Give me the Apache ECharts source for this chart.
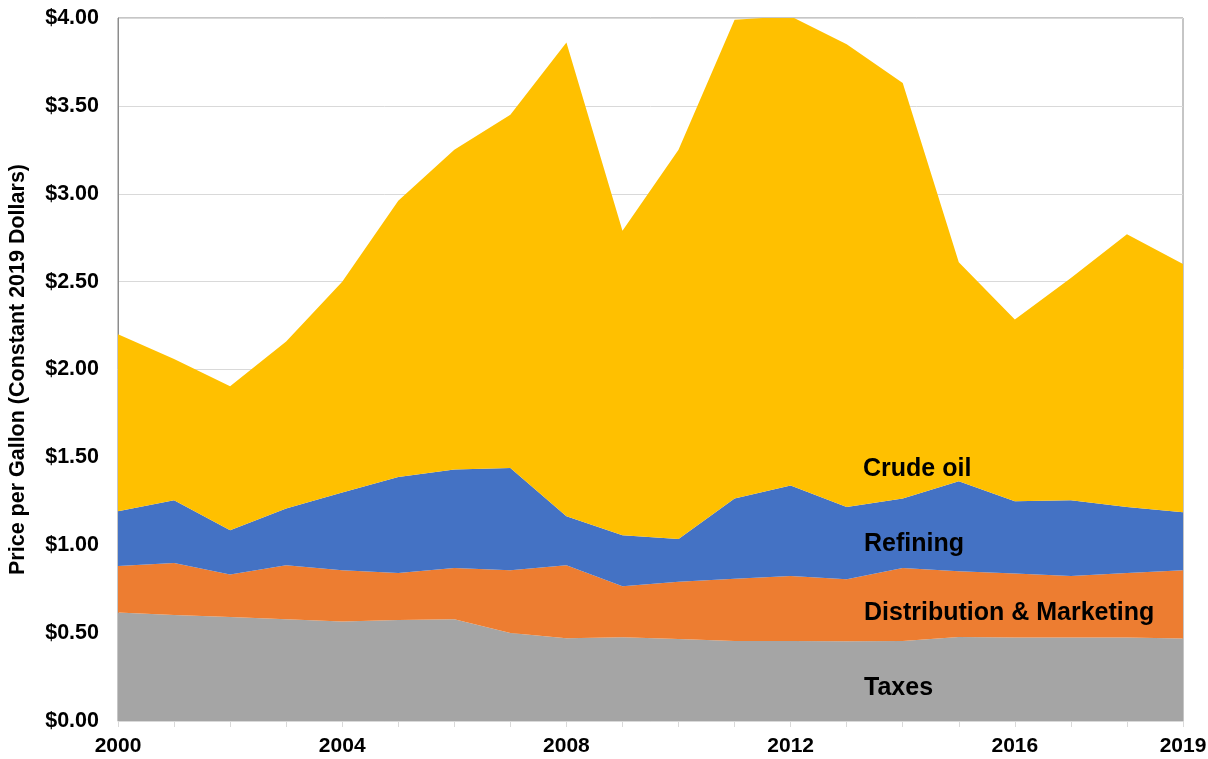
<!DOCTYPE html>
<html>
<head>
<meta charset="utf-8">
<script src="https://cdn.jsdelivr.net/npm/echarts@6/dist/echarts.min.js"></script>
<style>
html,body{margin:0;padding:0;background:#fff;}
#chart{width:1208px;height:759px;}
</style>
</head>
<body>
<div id="chart"></div>
<script>
const years = ['2000','2001','2002','2003','2004','2005','2006','2007','2008','2009','2010','2011','2012','2013','2014','2015','2016','2017','2018','2019'];
const shownYears = ['2000','2004','2008','2012','2016','2019'];
const taxes = [0.617,0.603,0.592,0.579,0.566,0.575,0.579,0.501,0.471,0.476,0.467,0.455,0.455,0.454,0.455,0.478,0.475,0.475,0.475,0.469];
const distribution = [0.265,0.296,0.241,0.307,0.292,0.267,0.292,0.357,0.415,0.291,0.326,0.355,0.370,0.352,0.416,0.374,0.364,0.350,0.367,0.389];
const refining = [0.311,0.357,0.252,0.323,0.442,0.547,0.560,0.582,0.279,0.290,0.243,0.456,0.515,0.412,0.395,0.512,0.411,0.431,0.376,0.330];
const crude = [1.007,0.804,0.820,0.951,1.200,1.571,1.819,2.010,2.695,1.733,2.214,2.724,2.670,2.632,2.364,1.246,1.035,1.264,1.552,1.412];
const seriesNames = ['Taxes','Distribution & Marketing','Refining','Crude oil'];
const seriesColors = ['#A5A5A5','#ED7D31','#4472C4','#FFC000'];
const seriesData = [taxes, distribution, refining, crude];

const chart = echarts.init(document.getElementById('chart'));
const font = '"Liberation Sans", Arial, sans-serif';
chart.setOption({
  animation: false,
  grid: {left: 118, right: 25, top: 18, bottom: 38, show: true, borderColor: '#8c8c8c', borderWidth: 1, backgroundColor: 'transparent', outerBoundsMode: 'none', containLabel: false},
  xAxis: {
    type: 'category',
    data: years,
    boundaryGap: false,
    axisLine: {show: true, lineStyle: {color: '#d9d9d9', width: 1}},
    axisTick: {show: true, interval: 0, length: 6, lineStyle: {color: '#d9d9d9'}},
    axisLabel: {
      interval: function(i, v){ return shownYears.indexOf(v) >= 0; },
      color: '#000', fontWeight: 'bold', fontSize: 21, fontFamily: font, margin: 15
    },
    splitLine: {show: false}
  },
  yAxis: {
    type: 'value',
    min: 0, max: 4, interval: 0.5,
    name: 'Price per Gallon (Constant 2019 Dollars)',
    nameLocation: 'middle',
    nameGap: 89,
    nameRotate: 90,
    nameTextStyle: {color: '#000', fontWeight: 'bold', fontSize: 21.5, fontFamily: font},
    axisLine: {show: true, lineStyle: {color: '#8c8c8c'}},
    axisTick: {show: false},
    axisLabel: {
      formatter: function(v){ return '$' + v.toFixed(2); },
      color: '#000', fontWeight: 'bold', fontSize: 21.5, fontFamily: font, margin: 19
    },
    splitLine: {show: true, lineStyle: {color: '#d9d9d9', width: 1}}
  },
  series: seriesData.map(function(d, i){
    return {
      name: seriesNames[i],
      type: 'line',
      stack: 'total',
      data: d,
      symbol: 'none',
      lineStyle: {width: 0},
      areaStyle: {color: seriesColors[i], opacity: 1},
      itemStyle: {color: seriesColors[i]}
    };
  }),
  graphic: [
    {type: 'text', z: 100, left: 863, top: 457, style: {text: 'Crude oil', font: 'bold 25px ' + font, fill: '#000'}},
    {type: 'text', z: 100, left: 864, top: 532, style: {text: 'Refining', font: 'bold 25px ' + font, fill: '#000'}},
    {type: 'text', z: 100, left: 864, top: 601, style: {text: 'Distribution & Marketing', font: 'bold 25px ' + font, fill: '#000'}},
    {type: 'text', z: 100, left: 864, top: 676, style: {text: 'Taxes', font: 'bold 25px ' + font, fill: '#000'}}
  ]
});
</script>
</body>
</html>
